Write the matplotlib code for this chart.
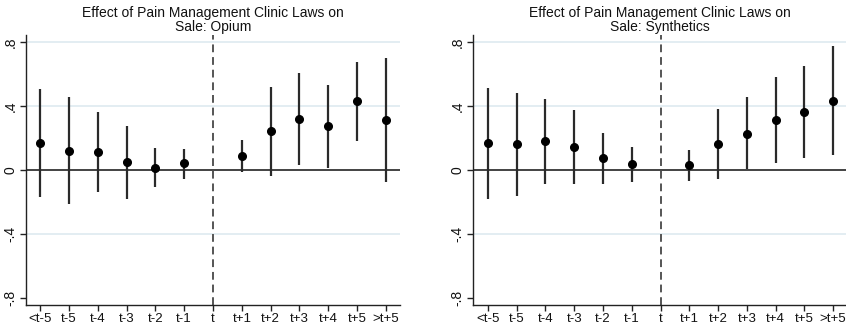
import matplotlib
matplotlib.use("Agg")
import matplotlib.pyplot as plt

plt.rcParams['font.family'] = ['Liberation Sans', 'DejaVu Sans']

periods = ['<t-5', 't-5', 't-4', 't-3', 't-2', 't-1', 't',
           't+1', 't+2', 't+3', 't+4', 't+5', '>t+5']

# event-study coefficients and 95% CI (no estimate at t)
opium_coef = [0.167, 0.121, 0.113, 0.048, 0.015, 0.042, None,
              0.085, 0.242, 0.319, 0.273, 0.431, 0.313]
opium_lo = [-0.171, -0.215, -0.140, -0.181, -0.104, -0.056, None,
            -0.015, -0.035, 0.030, 0.015, 0.183, -0.077]
opium_hi = [0.504, 0.458, 0.363, 0.275, 0.135, 0.131, None,
            0.185, 0.517, 0.606, 0.533, 0.677, 0.702]

synth_coef = [0.167, 0.163, 0.179, 0.146, 0.077, 0.038, None,
              0.033, 0.165, 0.227, 0.313, 0.363, 0.431]
synth_lo = [-0.183, -0.163, -0.088, -0.090, -0.088, -0.077, None,
            -0.067, -0.054, 0.004, 0.044, 0.077, 0.094]
synth_hi = [0.515, 0.479, 0.442, 0.375, 0.233, 0.144, None,
            0.123, 0.383, 0.456, 0.581, 0.650, 0.773]

yticks = [-0.8, -0.4, 0, 0.4, 0.8]
ytick_labels = ['-.8', '-.4', '0', '.4', '.8']

fig = plt.figure(figsize=(8.46, 3.30), dpi=100)
ax1 = fig.add_axes([26/846, 25/330, 374/846, 270/330])
ax2 = fig.add_axes([473/846, 25/330, 373/846, 270/330])


def draw(ax, coef, lo, hi, title, xlim):
    x = [i for i, c in enumerate(coef) if c is not None]
    c = [coef[i] for i in x]
    l = [lo[i] for i in x]
    h = [hi[i] for i in x]
    for g in [0.8, 0.4, -0.4]:
        ax.axhline(g, color='#e1ecf1', lw=1.3, zorder=0)
    ax.axhline(0, color='#222222', lw=1.2, zorder=1)
    ax.axvline(periods.index('t'), color='#555555', lw=1.4,
               ls=(0, (4, 2.5)), zorder=1)
    ax.vlines(x, l, h, color='#2a2a2a', lw=1.6, zorder=2)
    ax.plot(x, c, 'o', color='black', ms=5.5, zorder=3)
    ax.set_xlim(*xlim)
    ax.set_ylim(-0.844, 0.844)
    ax.set_xticks(range(len(periods)))
    ax.set_xticklabels(periods, fontsize=9.5)
    ax.set_yticks(yticks)
    ax.set_yticklabels(ytick_labels, rotation=90, va='center', fontsize=10)
    ax.spines['top'].set_visible(False)
    ax.spines['right'].set_visible(False)
    for s in ['left', 'bottom']:
        ax.spines[s].set_color('#222222')
        ax.spines[s].set_linewidth(1.0)
    ax.tick_params(length=4, width=1.0, color='#222222', pad=2,
                   labelcolor='#111111')
    ax.set_title(title, fontsize=10, pad=3, linespacing=1.0, color='#111111')


draw(ax1, opium_coef, opium_lo, opium_hi,
     'Effect of Pain Management Clinic Laws on\nSale: Opium', (-0.49, 12.49))
draw(ax2, synth_coef, synth_lo, synth_hi,
     'Effect of Pain Management Clinic Laws on\nSale: Synthetics', (-0.52, 12.45))

fig.savefig('out.png', dpi=100)
